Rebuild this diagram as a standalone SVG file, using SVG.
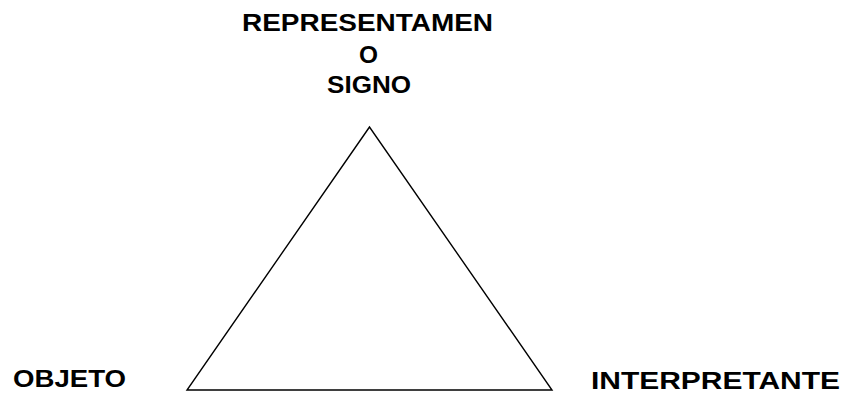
<svg xmlns="http://www.w3.org/2000/svg" width="849" height="394" viewBox="0 0 849 394">
<style>
  .lbl { font-family: "Liberation Sans", Arial, sans-serif; font-weight: bold; font-size: 23.5px; fill: #000; }
  .edge { fill: none; stroke: #000; stroke-width: 1.4; }
</style>
<rect width="849" height="394" fill="#fff"/>
<g id="connectors">
  <polygon class="edge" points="369.5,127 187,390 552,390"/>
</g>
<g id="node-representamen">
  <text class="lbl" x="242" y="31" textLength="251" lengthAdjust="spacingAndGlyphs">REPRESENTAMEN</text>
  <text class="lbl" x="359" y="63" textLength="19" lengthAdjust="spacingAndGlyphs">O</text>
  <text class="lbl" x="327" y="93" textLength="84" lengthAdjust="spacingAndGlyphs">SIGNO</text>
</g>
<g id="node-objeto">
  <text class="lbl" x="13" y="387" textLength="113" lengthAdjust="spacingAndGlyphs">OBJETO</text>
</g>
<g id="node-interpretante">
  <text class="lbl" x="591" y="389" textLength="249" lengthAdjust="spacingAndGlyphs">INTERPRETANTE</text>
</g>
</svg>
